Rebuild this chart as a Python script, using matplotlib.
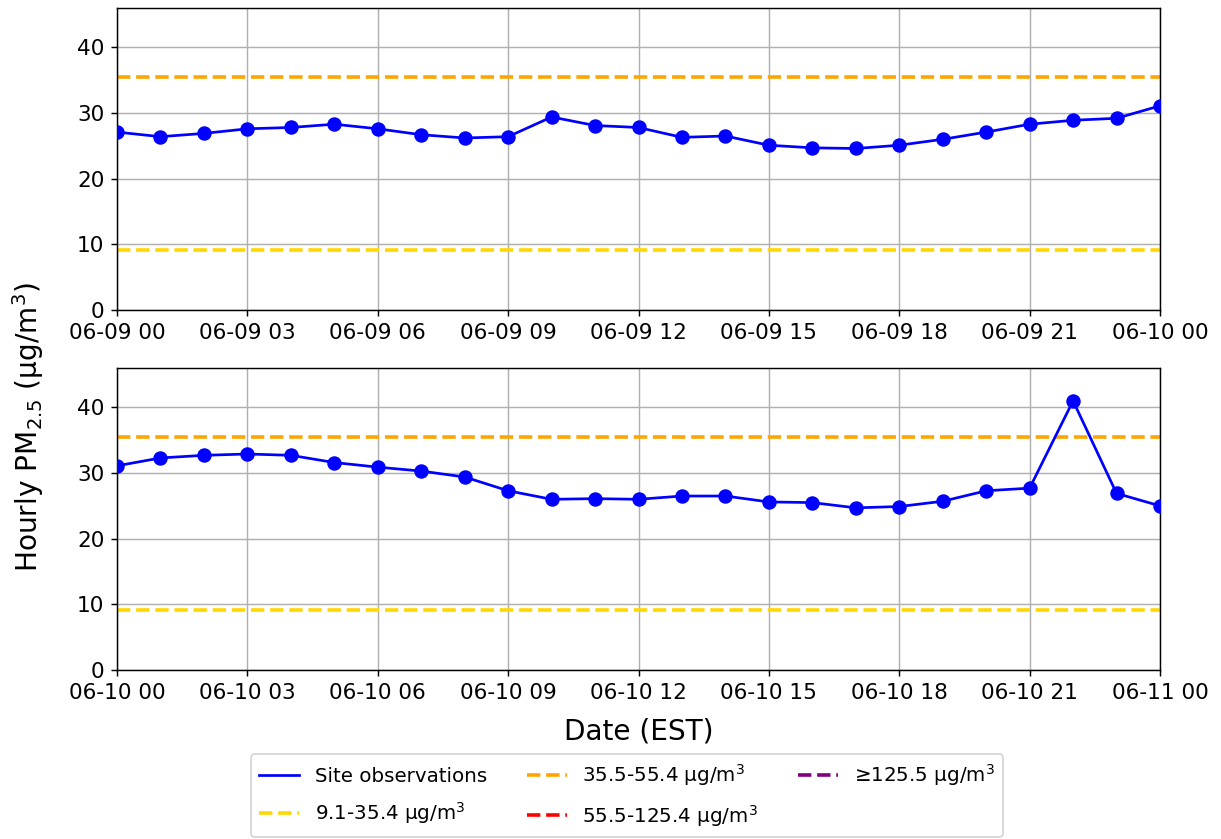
import numpy as np
import pandas as pd
import matplotlib
matplotlib.use('Agg')
import matplotlib.pyplot as plt
import matplotlib.dates as mdates

# Hourly PM2.5 observations, one list per day (25 points incl. next midnight)
day1_start = '2024-06-09 00:00'
day2_start = '2024-06-10 00:00'
pm_day1 = [27.1, 26.4, 26.9, 27.6, 27.8, 28.3, 27.6, 26.7, 26.2, 26.4,
           29.4, 28.1, 27.8, 26.3, 26.5, 25.1, 24.7, 24.6, 25.1, 26.0,
           27.1, 28.3, 28.9, 29.2, 31.1]
pm_day2 = [31.1, 32.3, 32.7, 32.9, 32.7, 31.6, 30.9, 30.3, 29.4, 27.3,
           26.0, 26.1, 26.0, 26.5, 26.5, 25.6, 25.5, 24.7, 24.9, 25.7,
           27.3, 27.7, 41.0, 26.9, 25.0]

# AQI category thresholds (lower bounds) and labels
thresholds = [9.1, 35.5, 55.5, 125.5]
threshold_labels = ['9.1-35.4 µg/m$^3$', '35.5-55.4 µg/m$^3$',
                    '55.5-125.4 µg/m$^3$', '≥125.5 µg/m$^3$']
threshold_colors = ['gold', 'orange', 'red', 'purple']

days = [(day1_start, pm_day1), (day2_start, pm_day2)]
ymax = max(max(pm_day1), max(pm_day2)) + 5

DPI = 130
fig, axes = plt.subplots(2, 1, figsize=(1221 / DPI, 839 / DPI), dpi=DPI)
fig.subplots_adjust(left=117/1221, right=1160/1221, top=1-8/839,
                    bottom=1-670/839, hspace=58/302)

for ax, (start, vals) in zip(axes, days):
    times = pd.date_range(start, periods=len(vals), freq='h')
    ax.plot(times, vals, color='blue', lw=1.5, label='Site observations', zorder=3)
    ax.plot(times, vals, 'o', color='blue', markersize=7, zorder=3)
    for t, lab, c in zip(thresholds, threshold_labels, threshold_colors):
        ax.axhline(t, color=c, linestyle='--', lw=2, label=lab, zorder=2)
    ax.set_xlim(times[0], times[-1])
    ax.set_ylim(0, ymax)
    ax.set_yticks([0, 10, 20, 30, 40])
    ax.xaxis.set_major_locator(mdates.HourLocator(byhour=range(0, 24, 3)))
    ax.xaxis.set_major_formatter(mdates.DateFormatter('%m-%d %H'))
    ax.tick_params(labelsize=12)
    ax.grid(True)

axes[1].set_xlabel('Date (EST)', fontsize=15.5, labelpad=8)
fig.text(28/1221, 1-427/839, 'Hourly PM$_{2.5}$ (µg/m$^3$)', rotation=90,
         fontsize=15.5, ha='center', va='center')

handles, labels = axes[1].get_legend_handles_labels()
fig.legend(handles, labels, loc='upper center', ncol=3, fontsize=11,
           bbox_to_anchor=(627/1221, 1-744/839), columnspacing=2.0,
           labelspacing=0.75)

plt.savefig('out.png', dpi=DPI)
